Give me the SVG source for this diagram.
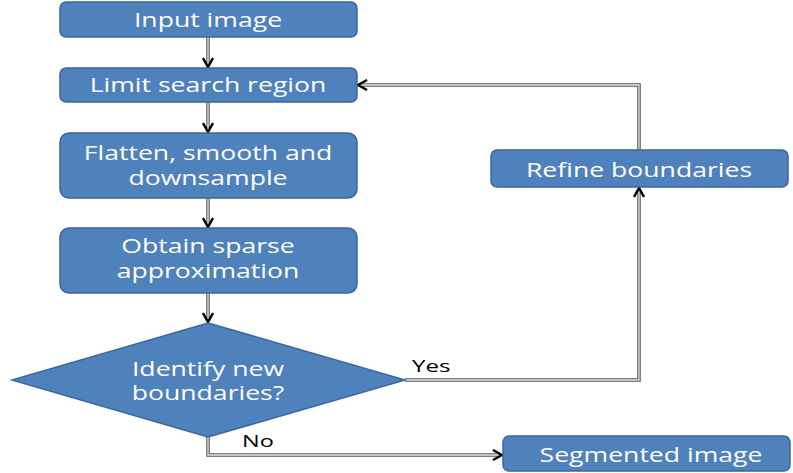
<svg xmlns="http://www.w3.org/2000/svg" width="793" height="473" viewBox="0 0 793 473">
  <defs>
    <marker id="chev" viewBox="0 0 12 12" refX="11" refY="6" markerWidth="12" markerHeight="12" markerUnits="userSpaceOnUse" orient="auto">
      <path d="M2,1 L11,6 L2,11" fill="none" stroke="#000" stroke-width="2.4"/>
    </marker>
  </defs>
  <style>
    .box { fill: #4f81bd; stroke: #3a679c; stroke-width: 1.5; }
    .lbl { font-family: "Open Sans", "Noto Sans", "Liberation Sans", sans-serif; font-size: 20px; fill: #ffffff; text-anchor: middle; }
    .tag { font-family: "Open Sans", "Noto Sans", "Liberation Sans", sans-serif; font-size: 17px; fill: #000000; }
    .outer { fill: none; stroke: #555; stroke-width: 3.5; }
    .inner { fill: none; stroke: #e8e8e8; stroke-width: 1.3; }
  </style>
  <rect width="793" height="473" fill="#ffffff"/>

  <!-- connectors: double-rule lines with open chevron heads -->
  <g id="connectors">
    <g class="outer">
      <path d="M208,37 V66"/>
      <path d="M208,102 V131"/>
      <path d="M208,198 V226"/>
      <path d="M208,293 V321"/>
      <path d="M405,380 H639 V189"/>
      <path d="M639,150 V85 H360"/>
      <path d="M208,437 V455 H501"/>
    </g>
    <g class="inner">
      <path d="M208,37 V66"/>
      <path d="M208,102 V131"/>
      <path d="M208,198 V226"/>
      <path d="M208,293 V321"/>
      <path d="M405,380 H639 V189"/>
      <path d="M639,150 V85 H360"/>
      <path d="M208,437 V455 H501"/>
    </g>
    <g fill="none" stroke="none">
      <path d="M208,56 V67" marker-end="url(#chev)"/>
      <path d="M208,121 V132" marker-end="url(#chev)"/>
      <path d="M208,216 V227" marker-end="url(#chev)"/>
      <path d="M208,311 V322" marker-end="url(#chev)"/>
      <path d="M639,200 V188" marker-end="url(#chev)"/>
      <path d="M370,85 H358" marker-end="url(#chev)"/>
      <path d="M490,455 H502" marker-end="url(#chev)"/>
    </g>
    <text class="tag" transform="translate(412,372) scale(1.42,1)">Yes</text>
    <text class="tag" transform="translate(242,447) scale(1.38,1)">No</text>
  </g>

  <g id="input-image">
    <rect class="box" x="60" y="2" width="297" height="35" rx="6"/>
    <text class="lbl" transform="translate(208,27) scale(1.33,1)">Input image</text>
  </g>

  <g id="limit-search-region">
    <rect class="box" x="60" y="68" width="297" height="34" rx="6"/>
    <text class="lbl" transform="translate(208,92) scale(1.33,1)">Limit search region</text>
  </g>

  <g id="flatten-smooth-downsample">
    <rect class="box" x="60" y="133" width="297" height="65" rx="9"/>
    <text class="lbl" transform="translate(208,160) scale(1.33,1)">Flatten, smooth and</text>
    <text class="lbl" transform="translate(208,185) scale(1.33,1)">downsample</text>
  </g>

  <g id="sparse-approximation">
    <rect class="box" x="60" y="228" width="297" height="65" rx="9"/>
    <text class="lbl" transform="translate(208,253) scale(1.33,1)">Obtain sparse</text>
    <text class="lbl" transform="translate(208,278) scale(1.33,1)">approximation</text>
  </g>

  <g id="identify-boundaries">
    <polygon class="box" points="208,323 405,380 208,437 12,380"/>
    <text class="lbl" transform="translate(208,376) scale(1.33,1)">Identify new</text>
    <text class="lbl" transform="translate(208,400) scale(1.33,1)">boundaries?</text>
  </g>

  <g id="refine-boundaries">
    <rect class="box" x="491" y="150" width="297" height="37" rx="6"/>
    <text class="lbl" transform="translate(639,177) scale(1.33,1)">Refine boundaries</text>
  </g>

  <g id="segmented-image">
    <rect class="box" x="503" y="436" width="287" height="35" rx="6"/>
    <text class="lbl" transform="translate(651,462) scale(1.33,1)">Segmented image</text>
  </g>
</svg>
